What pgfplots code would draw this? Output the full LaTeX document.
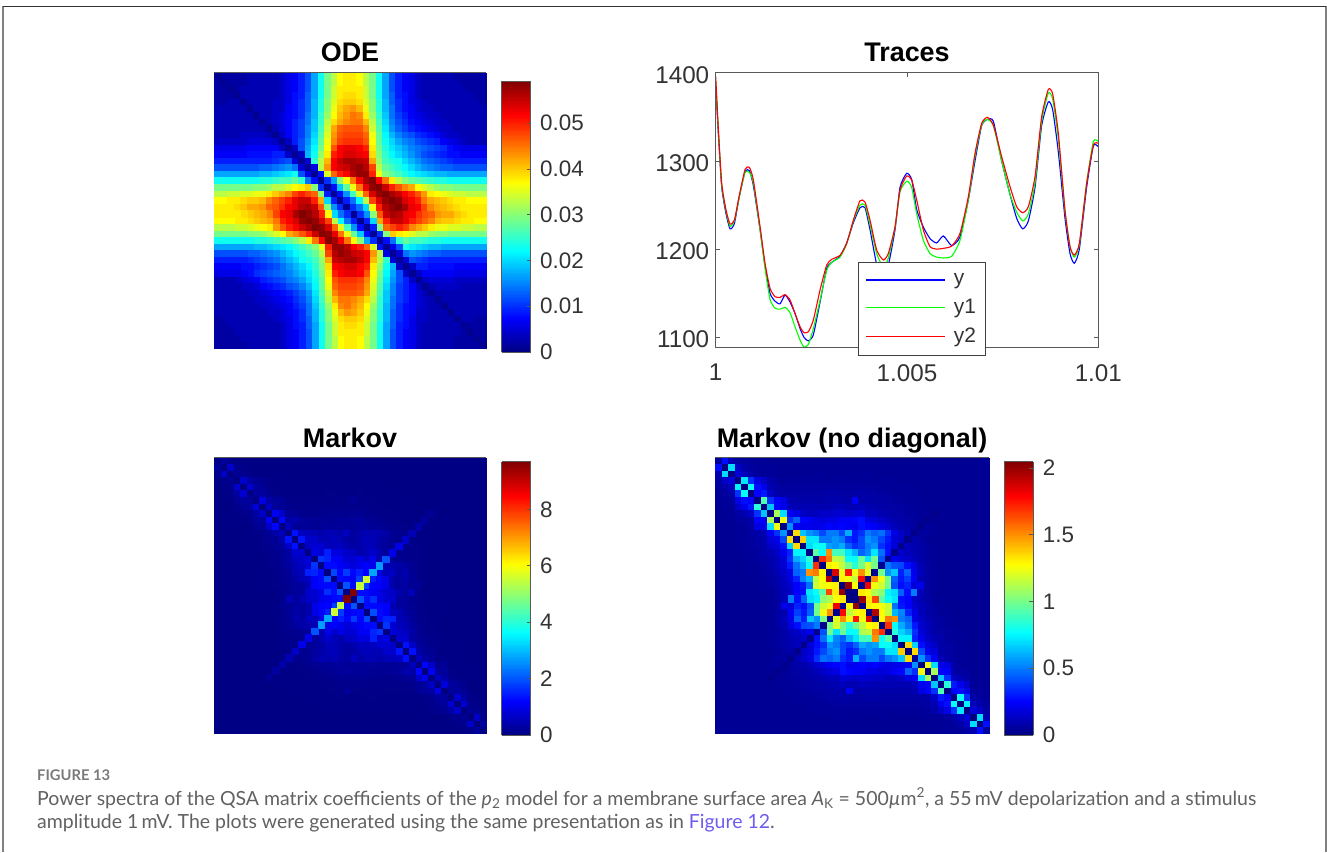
\documentclass[border=0pt]{standalone}
\usepackage{pgfplots}
\usepackage{pgfplotstable}
\usepackage{fontspec}
\setmainfont{Liberation Sans}
\newfontfamily\capfont{Lato}
\pgfplotsset{compat=1.18}
\definecolor{bord}{gray}{0.35}
\pgfplotstableread[header=false]{
1 2 2 2 2 3 3 3 3 3  4 6 7 9 12 17 23 29 33 37  38 38 37 33 29 23 17 12 9 7  6 4 3 3 3 3 3 2 2 2  2 2
2 1 2 2 2 3 3 3 3 3  4 6 7 9 12 17 23 29 33 37  38 38 37 33 29 23 17 12 9 7  6 4 3 3 3 3 3 3 2 2  2 2
2 2 1 2 3 3 3 3 3 3  4 6 7 9 12 17 23 29 34 38  38 38 38 34 29 23 17 12 9 7  6 4 3 3 3 3 3 3 3 2  2 2
2 2 2 1 3 3 3 3 3 3  4 6 8 9 13 17 23 29 34 38  39 39 38 34 29 23 17 13 9 8  6 4 3 3 3 3 3 3 3 3  2 2
2 2 3 3 1 3 3 3 3 4  4 6 8 10 13 18 24 30 35 39  40 40 39 35 30 24 18 13 10 8  6 5 4 3 3 3 3 3 3 3  3 2
3 3 3 3 3 1 3 3 3 4  4 7 8 10 13 18 24 30 36 40  42 43 41 36 30 24 18 14 10 8  7 5 4 4 3 3 3 3 3 3  3 3
3 3 3 3 3 3 1 3 3 4  5 7 8 10 14 18 25 31 37 41  43 45 44 38 31 25 19 14 11 9  7 6 5 4 4 3 3 3 3 3  3 3
3 3 3 3 3 3 3 1 3 4  5 7 9 11 14 19 25 33 39 42  44 45 45 41 33 26 20 15 12 10  8 7 6 5 4 4 3 3 3 3  3 3
3 3 3 3 3 3 3 3 1 3  5 7 9 11 15 19 26 34 42 46  47 47 47 44 34 27 21 16 13 11  9 8 7 6 5 4 4 3 3 3  3 3
3 3 3 3 4 4 4 4 3 1  4 7 9 11 15 20 27 35 43 47  48 48 48 46 36 28 22 18 15 13  12 10 9 8 7 5 4 4 3 3  3 3
4 4 4 4 4 5 5 5 5 4  1 4 9 12 16 21 28 36 44 48  49 49 49 47 37 28 23 20 17 15  14 12 11 10 9 7 6 5 4 3  3 3
6 6 6 6 6 7 7 7 7 7  4 1 4 12 17 22 29 37 47 52  53 53 52 50 38 29 24 21 19 17  15 14 13 12 11 10 8 7 6 6  6 6
7 7 7 7 7 8 8 8 8 9  9 4 1 4 18 23 31 38 50 52  54 54 53 52 39 30 25 22 20 18  16 14 12 11 10 9 8 8 7 7  7 7
9 9 9 9 9 9 9 9 9 10  11 12 5 1 5 25 33 41 52 55  57 57 56 55 42 31 26 24 23 20  18 16 14 13 12 11 10 9 9 9  9 9
12 12 12 12 12 12 12 13 13 14  15 16 14 5 1 6 33 43 52 54  55 57 58 56 48 33 28 26 24 22  20 18 16 15 14 13 13 12 12 12  12 12
17 17 17 17 17 17 17 18 18 19  20 21 23 12 6 1 8 35 46 50  52 56 58 58 50 36 30 28 26 24  22 21 20 19 18 18 17 17 17 17  17 17
23 23 23 23 23 23 23 24 24 25  26 26 28 25 14 8 1 10 17 30  37 45 52 57 59 52 45 38 33 30  28 27 26 25 24 24 23 23 23 23  23 23
29 29 29 29 29 29 30 30 31 33  33 35 37 38 40 30 10 1 8 19  28 36 45 53 58 59 55 50 47 44  42 37 35 33 31 30 30 29 29 29  29 29
33 33 34 34 35 35 36 36 38 40  42 44 48 50 48 46 30 9 1 8  16 26 35 46 54 58 59 57 55 52  50 47 43 38 37 36 35 34 34 33  33 33
37 37 38 38 39 40 40 41 44 46  48 50 53 55 55 50 42 20 9 1  9 14 22 33 48 54 58 59 58 54  52 50 45 42 41 40 39 38 38 37  37 37
38 38 38 39 40 42 42 43 46 47  49 52 53 56 57 55 47 30 16 10  1 10 14 20 37 50 56 58 59 57  53 52 48 44 42 41 40 39 38 38  38 38
}\odeT
\pgfplotstableread[header=false]{
6 28 10 7 6 5 5 5 4 4  4 4 4 4 4 4 4 4 4 4  4 4 4 4 4 4 4 4 4 4  4 4 4 4 4 4 4 4 4 4  4 5
28 0 70 14 8 6 5 5 5 4  4 4 4 4 4 4 4 4 4 4  4 4 4 4 4 4 4 4 4 4  4 4 4 4 4 4 4 4 4 4  4 4
10 70 0 18 12 8 6 5 5 5  4 4 4 4 4 5 5 4 4 4  5 4 5 5 4 4 4 4 4 4  4 4 4 4 4 4 4 4 4 4  4 4
7 14 18 0 72 35 20 14 8 6  5 5 5 5 5 5 5 5 5 5  5 5 5 5 5 5 5 5 4 4  4 4 4 4 4 4 4 4 4 4  4 4
6 8 12 75 0 78 28 22 10 7  6 6 6 6 6 6 6 6 6 6  6 6 6 6 6 5 5 5 5 5  4 4 4 4 4 4 4 4 4 4  4 4
5 6 8 35 78 0 25 30 14 8  7 7 7 7 7 7 7 8 8 7  7 7 8 7 7 6 6 5 5 5  5 4 4 4 4 4 4 4 4 4  4 4
5 5 6 20 28 25 0 92 35 25  20 10 8 8 8 8 8 9 9 8  8 24 8 8 8 7 7 6 6 5  5 5 4 4 4 4 4 4 4 4  4 4
4 5 5 14 22 30 85 0 65 25  22 12 10 10 10 10 10 10 11 12  10 10 12 10 9 8 7 7 6 6  5 5 4 4 4 4 4 4 4 4  4 4
4 4 5 7 10 14 35 65 0 110  70 24 20 14 12 12 14 14 16 16  14 16 18 12 12 10 9 8 7 6  6 5 5 2 4 4 4 4 4 4  4 4
4 4 4 6 6 8 25 25 110 0  125 35 45 26 24 20 18 20 20 24  24 26 28 20 18 14 12 9 8 7  6 5 2 4 4 4 4 4 4 4  4 4
4 4 4 5 5 7 20 22 70 125  0 55 24 22 22 20 22 26 24 26  24 22 28 26 24 20 16 12 9 8  6 2 6 5 4 4 4 4 4 4  4 4
4 4 4 5 5 6 8 10 24 35  55 5 135 65 55 50 40 50 50 40  60 30 35 50 45 48 35 20 14 10  2 6 6 5 4 4 4 4 4 4  4 4
4 4 4 5 5 6 7 9 18 22  40 135 0 138 72 72 50 50 55 50  35 30 40 55 50 40 30 18 14 2  8 7 5 4 4 4 4 4 4 4  4 4
4 4 4 4 5 6 7 8 14 18  28 68 135 0 70 78 78 58 55 60  45 35 40 50 55 35 28 18 2 12  10 8 6 5 4 4 4 4 4 4  4 4
4 4 4 4 5 5 6 8 10 14  22 32 75 75 0 95 78 150 90 90  72 62 45 52 72 48 28 3 14 12  10 8 6 5 4 4 4 4 4 4  4 4
4 4 4 4 5 5 6 7 8 12  18 35 60 68 85 0 170 155 115 112  78 78 98 72 100 42 3 22 18 14  12 8 6 5 4 4 4 4 4 4  4 4
4 4 4 4 4 5 5 6 8 12  16 30 48 60 78 170 0 130 128 115  100 85 100 120 100 3 50 42 40 28  20 10 7 5 4 4 4 4 4 4  4 4
4 4 4 4 4 5 5 6 7 10  14 20 45 50 150 155 128 0 188 125  175 125 150 122 3 100 55 65 32 45  22 12 7 5 4 4 4 4 4 4  4 4
4 4 4 4 4 4 5 5 6 8  12 20 32 52 62 115 128 195 0 130  125 115 178 3 150 125 100 45 30 38  24 10 7 5 4 4 4 4 4 4  4 4
4 4 4 4 4 4 4 5 6 8  12 16 25 30 48 118 125 128 130 0  200 128 3 182 125 118 100 42 28 32  18 22 7 5 4 4 4 4 4 4  4 4
4 4 4 4 4 4 4 5 5 7  10 14 25 28 72 78 95 165 132 200  0 0 132 128 112 105 75 70 45 28  50 12 7 5 4 4 4 4 4 4  4 4
}\nodiagT
\pgfplotstableread{
c r v
21 20 970
22 19 550
23 18 560
24 17 280
25 16 270
26 15 200
27 14 100
28 13 100
29 12 70
30 11 50
31 10 40
32 9 30
33 8 20
}\antiT
\pgfplotstableread{
x r g b
1.000000 1395.5 1390 1385
1.000070 1335 1333 1330
1.000157 1274.6 1272 1270
1.000270 1244.3 1243 1240
1.000375 1228.5 1226 1223
1.000488 1233 1232 1229
1.000610 1259.5 1258 1258
1.000767 1290.4 1287 1288
1.000880 1292.7 1287 1289
1.000984 1278.4 1275 1272
1.001159 1225.5 1222 1222
1.001289 1183.9 1178 1181
1.001420 1155.6 1143 1150
1.001551 1146.1 1133 1141
1.001681 1145.4 1132 1138
1.001812 1148.4 1134 1148
1.001943 1142.3 1128 1140
1.002073 1127.2 1112 1127
1.002204 1112.1 1097 1110
1.002308 1105.3 1089 1100
1.002422 1106.4 1092 1096
1.002552 1119.7 1110 1103
1.002727 1153.7 1142 1140
1.002901 1182 1176 1178
1.003031 1188.4 1185 1185
1.003249 1193 1191 1192
1.003423 1206.6 1206 1207
1.003598 1233 1232 1230
1.003772 1254.9 1250 1247
1.003902 1253.4 1250 1247
1.004033 1233 1228 1222
1.004207 1199 1195 1183
1.004382 1187.7 1180 1170
1.004512 1195.2 1190 1182
1.004687 1225.5 1225 1222
1.004817 1267 1265 1270
1.004991 1282.9 1277 1286
1.005122 1278.4 1270 1279
1.005253 1255.7 1240 1245
1.005427 1221.7 1210 1225
1.005601 1202.8 1195 1212
1.005775 1200.1 1191 1207
1.005950 1200.9 1190 1215
1.006167 1203.5 1192 1204
1.006385 1217.9 1210 1214
1.006603 1259.5 1256 1256
1.006777 1308.6 1305 1300
1.006951 1342.6 1341 1340
1.007100 1349.4 1347 1347
1.007256 1340.7 1340 1345
1.007474 1304.8 1300 1300
1.007692 1270.8 1262 1262
1.007866 1248.1 1242 1235
1.008023 1241.3 1232 1223
1.008171 1248.1 1240 1232
1.008345 1282.1 1275 1270
1.008519 1350.1 1345 1340
1.008694 1381.1 1377 1367
1.008807 1375.8 1370 1358
1.008955 1331.2 1325 1310
1.009129 1244.3 1243 1235
1.009260 1202.8 1203 1195
1.009373 1193.3 1191 1184
1.009504 1206.6 1205 1200
1.009695 1274.6 1275 1270
1.009870 1318 1322 1317
1.010000 1319.9 1322 1316
}\tracesT
\pgfplotsset{
  cell/.style={only marks,scatter,mark=square*,mark size=3.25pt,point meta=explicit,
    scatter/use mapped color={draw=mapped color,fill=mapped color},line width=0.15pt},
  ttl/.style={title style={at={(0.5,1)},anchor=base,yshift=#1,font=\fontsize{27}{27}\bfseries\selectfont,text=black}},
  heat/.style={scale only axis,width=271.4bp,height=275bp,xmin=-0.5,xmax=41.5,ymin=-0.5,ymax=41.5,
    y dir=reverse,xtick=\empty,ytick=\empty,axis on top,colormap/jet,anchor=north west,
    axis line style={draw=bord,line width=0.8bp}},
  cbar/.style={colorbar sampled,colorbar style={samples=160,at={(parent axis.north east)},anchor=north west,
    xshift=#1,width=29bp,
    axis line style={draw=bord,line width=0.8bp},
    major tick length=4bp,tick style={draw=bord,line width=0.6bp},tick align=inside,
    ytick pos=right,yticklabel pos=right,
    yticklabel style={font=\fontsize{22.5}{22.5}\selectfont,text=black!80,xshift=6bp}}},
}
\newcommand\heatcells[1]{%
  \pgfplotsinvokeforeach{0,...,41}{%
    \addplot[cell] table[x expr=##1,y expr=\coordindex,meta index=##1]{#1};
    \addplot[cell] table[x expr=41-##1,y expr=41-\coordindex,meta index=##1]{#1};
  }}
\begin{document}
\begin{tikzpicture}[x=1bp,y=-1bp]
\useasboundingbox (0,0) rectangle (1327,852);
\draw[black!50,line width=1.2bp] (3,852) -- (3,6) (1326,6) -- (1326,852);
\draw[black!80,line width=1bp] (3,6) -- (1326,6);

\begin{axis}[heat,cbar=7.5bp,ttl=5.7bp,at={(214.3bp,-72.7bp)},title={ODE},point meta min=0,point meta max=59.2,
  colorbar style={yshift=-8.3bp,height=271bp,ytick={0,10,20,30,40,50},yticklabels={0,0.01,0.02,0.03,0.04,0.05}}]
\heatcells{\odeT}
\end{axis}

\begin{axis}[heat,cbar=7.5bp,ttl=4bp,at={(214.3bp,-457.7bp)},title={Markov},point meta min=0,point meta max=969,
  colorbar style={yshift=-4bp,height=273.3bp,ytick={0,200,400,600,800},yticklabels={0,2,4,6,8}}]
\heatcells{\nodiagT}
\addplot[cell] table[x=c,y=r,meta=v]{\antiT};
\addplot[cell] table[x expr=41-\thisrow{c},y expr=41-\thisrow{r},meta=v]{\antiT};
\end{axis}

\begin{axis}[heat,cbar=7.1bp,ttl=4bp,at={(715.3bp,-457.7bp)},title={Markov (no diagonal)},point meta min=0,point meta max=204.6,
  width=273.4bp,
  colorbar style={yshift=-4bp,height=273.3bp,ytick={0,50,100,150,200},yticklabels={0,0.5,1,1.5,2}}]
\heatcells{\nodiagT}
\end{axis}

\begin{axis}[scale only axis,anchor=north west,at={(715.7bp,-72.7bp)},width=382.6bp,height=275bp,
  xmin=1,xmax=1.01,ymin=1088.3,ymax=1400,ttl=5bp,
  xtick={1,1.005,1.01},xticklabels={1,1.005,1.01},
  ytick={1100,1200,1300,1400},yticklabels={1100,1200,1300,1400},
  tick align=inside,major tick length=4bp,tick style={draw=bord,line width=0.6bp},
  axis line style={draw=bord,line width=0.8bp},
  tick label style={font=\fontsize{24.3}{24.3}\selectfont,text=black!80},
  xticklabel style={yshift=-13bp},yticklabel style={xshift=-3bp,yshift=-2bp},
  title={Traces},
  legend style={at={(0.372,-0.029)},anchor=south west,draw=black!75,line width=0.8bp,fill=white,
    font=\fontsize{21}{21}\selectfont,text=black!80,inner xsep=7bp,inner ysep=9bp,row sep=9bp,
    /tikz/column 1/.style={column sep=6bp}},
  legend cell align=left,
  axis on top]
\addplot[draw=blue,line width=1.1bp,smooth,tension=0.35,forget plot] table[x=x,y=b]{\tracesT};
\addplot[draw=green,line width=1.1bp,smooth,tension=0.35,forget plot] table[x=x,y=g]{\tracesT};
\addplot[draw=red,line width=1.1bp,smooth,tension=0.35,forget plot] table[x=x,y=r]{\tracesT};
\addlegendimage{legend image code/.code={\draw[draw=blue,line width=1.4bp] (0bp,0bp) -- (79bp,0bp);}}
\addlegendentry{y}
\addlegendimage{legend image code/.code={\draw[draw=green,line width=1.4bp] (0bp,-0.4bp) -- (79bp,-0.4bp);}}
\addlegendentry{y1}
\addlegendimage{legend image code/.code={\draw[draw=red,line width=1.4bp] (0bp,0bp) -- (79bp,0bp);}}
\addlegendentry{y2}
\end{axis}

\begin{scope}[every node/.style={anchor=base west,inner sep=0pt,text=black!62}]
\node[font=\capfont\bfseries\fontsize{14.8}{14.8}\selectfont,text=black!52] at (37,780) {FIGURE 13};
\node[font=\capfont\fontsize{19.54}{19.54}\selectfont] at (37,805) {Power spectra of the QSA matrix coefficients of the \textit{p}\textsubscript{2} model for a membrane surface area \textit{A}\textsubscript{K} = 500\textit{µ}m\textsuperscript{2}, a 55\,mV depolarization and a stimulus};
\node[font=\capfont\fontsize{19.54}{19.54}\selectfont] at (37,828) {amplitude 1\,mV. The plots were generated using the same presentation as in \textcolor[HTML]{6E5CF0}{Figure 12}.};
\end{scope}
\end{tikzpicture}
\end{document}
